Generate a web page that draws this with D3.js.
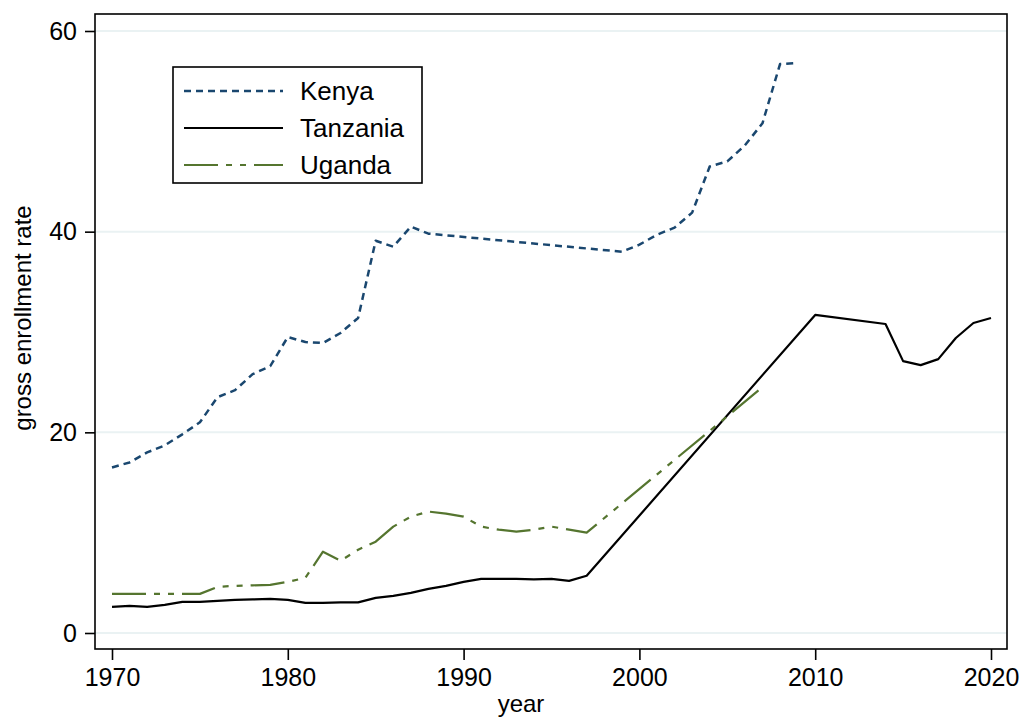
<!DOCTYPE html>
<html>
<head>
<meta charset="utf-8">
<script src="https://cdn.jsdelivr.net/npm/d3@7"></script>
<style>
  body { margin: 0; background: #fff; }
  text { font-family: "Liberation Sans", Arial, Helvetica, sans-serif; fill: #000; }
</style>
</head>
<body>
<div class="chart"></div>
<script>
// data
var kenyaYears = [1970, 1971, 1972, 1973, 1974, 1975, 1976, 1977, 1978, 1979, 1980, 1981, 1982, 1983, 1984,
  1985, 1986, 1987, 1988, 1999, 2000, 2001, 2002, 2003, 2004, 2005, 2006, 2007, 2008, 2009];
var kenyaValues = [16.5, 17.0, 18.0, 18.7, 19.8, 21.0, 23.5, 24.2, 25.8, 26.6, 29.5, 29.0, 28.9, 29.9, 31.4,
  39.1, 38.5, 40.5, 39.8, 38.0, 38.7, 39.7, 40.4, 41.9, 46.5, 47.0, 48.6, 50.8, 56.7, 56.8];

var tanzaniaYears = [1970, 1971, 1972, 1973, 1974, 1975, 1976, 1977, 1978, 1979, 1980, 1981, 1982, 1983, 1984,
  1985, 1986, 1987, 1988, 1989, 1990, 1991, 1992, 1993, 1994, 1995, 1996, 1997, 2010, 2014, 2015, 2016,
  2017, 2018, 2019, 2020];
var tanzaniaValues = [2.6, 2.7, 2.6, 2.8, 3.1, 3.1, 3.2, 3.3, 3.35, 3.4, 3.3, 3.0, 3.0, 3.05, 3.05,
  3.5, 3.7, 4.0, 4.4, 4.7, 5.1, 5.4, 5.4, 5.4, 5.35, 5.4, 5.2, 5.7, 31.7, 30.8, 27.1, 26.7,
  27.3, 29.4, 30.9, 31.4];

var ugandaYears = [1970, 1971, 1972, 1973, 1974, 1975, 1976, 1977, 1978, 1979, 1980, 1981, 1982, 1983, 1984,
  1985, 1986, 1987, 1988, 1989, 1990, 1991, 1992, 1993, 1994, 1995, 1996, 1997, 2007];
var ugandaValues = [3.9, 3.9, 3.9, 3.9, 3.9, 3.9, 4.6, 4.7, 4.75, 4.8, 5.1, 5.5, 8.1, 7.2, 8.3,
  9.1, 10.6, 11.6, 12.1, 11.9, 11.6, 10.6, 10.3, 10.1, 10.3, 10.6, 10.3, 10.0, 24.5];

var xTicks = [1970, 1980, 1990, 2000, 2010, 2020];
var yTicks = [0, 20, 40, 60];

var svgWidth = 1023;
var svgHeight = 721;

// plot region frame
var frame = { left: 95, right: 1007, top: 14, bottom: 649 };

var svg = d3.select(".chart")
  .append("svg")
  .attr("width", svgWidth)
  .attr("height", svgHeight);

svg.append("rect")
  .attr("width", svgWidth)
  .attr("height", svgHeight)
  .attr("fill", "#fff");

var xScale = d3.scaleLinear().domain([1970, 2020]).range([112, 991]);
var yScale = d3.scaleLinear().domain([0, 60]).range([633, 31]);

// gridlines
svg.append("g")
  .selectAll("line")
  .data(yTicks)
  .enter()
  .append("line")
  .attr("x1", frame.left)
  .attr("x2", frame.right)
  .attr("y1", d => yScale(d))
  .attr("y2", d => yScale(d))
  .attr("stroke", "#eaf2f3")
  .attr("stroke-width", 2);

// series
var series = [
  { name: "Kenya", years: kenyaYears, values: kenyaValues, color: "#1a476f", dash: "7,5", width: 2.5 },
  { name: "Tanzania", years: tanzaniaYears, values: tanzaniaValues, color: "#000000", dash: null, width: 2.2 },
  { name: "Uganda", years: ugandaYears, values: ugandaValues, color: "#55752f", dash: "34,8,6,8,6,8", width: 2.2 }
];

var line = d3.line()
  .x(d => xScale(d[0]))
  .y(d => yScale(d[1]));

series.forEach(function(s) {
  var pts = s.years.map((y, i) => [y, s.values[i]]);
  svg.append("path")
    .datum(pts)
    .attr("d", line)
    .attr("fill", "none")
    .attr("stroke", s.color)
    .attr("stroke-width", s.width)
    .attr("stroke-dasharray", s.dash)
    .attr("stroke-linejoin", "round");
});

// frame
svg.append("rect")
  .attr("x", frame.left)
  .attr("y", frame.top)
  .attr("width", frame.right - frame.left)
  .attr("height", frame.bottom - frame.top)
  .attr("fill", "none")
  .attr("stroke", "#000")
  .attr("stroke-width", 1.6);

// axes
var xAxis = svg.append("g")
  .attr("transform", `translate(0, ${frame.bottom})`)
  .call(d3.axisBottom(xScale).tickValues(xTicks).tickFormat(d3.format("d")).tickSize(11).tickPadding(8));

var yAxis = svg.append("g")
  .attr("transform", `translate(${frame.left}, 0)`)
  .call(d3.axisLeft(yScale).tickValues(yTicks).tickSize(10).tickPadding(8));

[xAxis, yAxis].forEach(function(a) {
  a.select(".domain").remove();
  a.selectAll(".tick line").attr("stroke", "#000").attr("stroke-width", 1.6);
  a.selectAll(".tick text")
    .attr("font-size", "25px")
    .attr("font-family", "'Liberation Sans', Arial, Helvetica, sans-serif")
    .attr("fill", "#000");
});

// axis titles
svg.append("text")
  .attr("x", 521)
  .attr("y", 712)
  .attr("text-anchor", "middle")
  .attr("font-size", "24px")
  .text("year");

svg.append("text")
  .attr("transform", "translate(31, 318) rotate(-90)")
  .attr("text-anchor", "middle")
  .attr("font-size", "24px")
  .text("gross enrollment rate");

// legend
var legend = svg.append("g");
legend.append("rect")
  .attr("x", 173)
  .attr("y", 67)
  .attr("width", 249)
  .attr("height", 116)
  .attr("fill", "#fff")
  .attr("stroke", "#000")
  .attr("stroke-width", 1.6);

var legendY = [91, 128, 165];
series.forEach(function(s, i) {
  legend.append("line")
    .attr("x1", 184)
    .attr("x2", 283)
    .attr("y1", legendY[i])
    .attr("y2", legendY[i])
    .attr("stroke", s.color)
    .attr("stroke-width", s.width)
    .attr("stroke-dasharray", s.dash);
  legend.append("text")
    .attr("x", 300)
    .attr("y", legendY[i])
    .attr("dy", "0.35em")
    .attr("font-size", "26px")
    .text(s.name);
});
</script>
</body>
</html>
